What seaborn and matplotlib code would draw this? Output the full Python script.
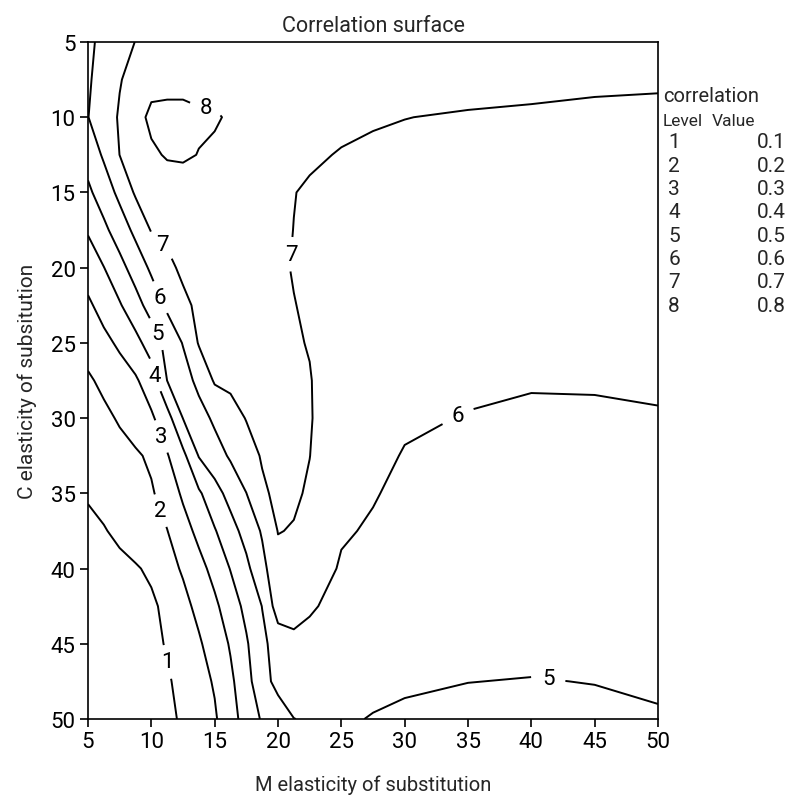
import numpy as np
import pandas as pd
import matplotlib
matplotlib.use("Agg")
import matplotlib.pyplot as plt
import seaborn as sns

# ---- data: correlation surface ----
m_elasticity = [5, 6.25, 7.5, 8.75, 10, 11.25, 12.5, 13.75, 15, 16.25, 17.5,
                18.75, 20, 21.25, 22.5, 25, 27.5, 30, 35, 40, 45, 50]
c_elasticity = [5, 7.5, 10, 12.5, 15, 17.5, 20, 22.5, 25, 27.5, 30, 32.5,
                35, 37.5, 40, 42.5, 45, 47.5, 50]

corr_c050 = [0.583, 0.622, 0.662, 0.702, 0.73, 0.75, 0.76, 0.767, 0.77, 0.77, 0.768, 0.766, 0.764, 0.762, 0.76, 0.755, 0.75, 0.745, 0.74, 0.73, 0.725, 0.72]
corr_c075 = [0.588, 0.642, 0.695, 0.73, 0.77, 0.775, 0.775, 0.775, 0.78, 0.778, 0.775, 0.772, 0.77, 0.767, 0.763, 0.755, 0.745, 0.735, 0.725, 0.715, 0.706, 0.704]
corr_c100 = [0.598, 0.655, 0.709, 0.766, 0.82, 0.822, 0.822, 0.81, 0.806, 0.793, 0.785, 0.775, 0.765, 0.755, 0.745, 0.72, 0.707, 0.701, 0.694, 0.692, 0.693, 0.693]
corr_c125 = [0.54, 0.613, 0.701, 0.74, 0.785, 0.808, 0.81, 0.798, 0.79, 0.775, 0.765, 0.755, 0.745, 0.733, 0.712, 0.695, 0.688, 0.685, 0.684, 0.683, 0.682, 0.68]
corr_c150 = [0.481, 0.549, 0.624, 0.712, 0.735, 0.752, 0.762, 0.765, 0.765, 0.76, 0.75, 0.738, 0.722, 0.702, 0.69, 0.683, 0.678, 0.673, 0.672, 0.671, 0.67, 0.668]
corr_c175 = [0.409, 0.478, 0.549, 0.623, 0.706, 0.725, 0.74, 0.748, 0.75, 0.748, 0.742, 0.732, 0.718, 0.699, 0.687, 0.675, 0.668, 0.661, 0.66, 0.659, 0.658, 0.656]
corr_c200 = [0.346, 0.398, 0.468, 0.543, 0.617, 0.675, 0.72, 0.725, 0.732, 0.733, 0.73, 0.724, 0.712, 0.696, 0.686, 0.668, 0.659, 0.65, 0.648, 0.647, 0.646, 0.645]
corr_c225 = [0.283, 0.337, 0.391, 0.462, 0.541, 0.618, 0.677, 0.72, 0.725, 0.723, 0.722, 0.718, 0.71, 0.702, 0.69, 0.66, 0.65, 0.64, 0.636, 0.635, 0.634, 0.633]
corr_c250 = [0.235, 0.274, 0.317, 0.37, 0.444, 0.532, 0.605, 0.707, 0.72, 0.725, 0.726, 0.724, 0.718, 0.708, 0.696, 0.652, 0.643, 0.63, 0.624, 0.623, 0.622, 0.622]
corr_c275 = [0.188, 0.219, 0.253, 0.287, 0.354, 0.501, 0.557, 0.626, 0.71, 0.72, 0.725, 0.727, 0.725, 0.718, 0.704, 0.646, 0.636, 0.62, 0.612, 0.605, 0.605, 0.61]
corr_c300 = [0.155, 0.181, 0.209, 0.247, 0.285, 0.361, 0.502, 0.562, 0.617, 0.663, 0.704, 0.718, 0.725, 0.72, 0.706, 0.64, 0.628, 0.61, 0.597, 0.59, 0.592, 0.595]
corr_c325 = [0.14, 0.156, 0.172, 0.187, 0.216, 0.293, 0.375, 0.505, 0.559, 0.612, 0.661, 0.708, 0.722, 0.718, 0.701, 0.632, 0.618, 0.596, 0.58, 0.577, 0.578, 0.58]
corr_c350 = [0.11, 0.13, 0.15, 0.17, 0.19, 0.24, 0.316, 0.386, 0.463, 0.534, 0.599, 0.685, 0.72, 0.712, 0.69, 0.622, 0.606, 0.58, 0.567, 0.565, 0.566, 0.57]
corr_c375 = [0.075, 0.094, 0.12, 0.146, 0.172, 0.198, 0.26, 0.326, 0.393, 0.463, 0.535, 0.61, 0.703, 0.695, 0.675, 0.61, 0.59, 0.56, 0.555, 0.555, 0.555, 0.56]
corr_c400 = [0.05, 0.062, 0.076, 0.092, 0.115, 0.166, 0.211, 0.268, 0.331, 0.404, 0.477, 0.571, 0.67, 0.675, 0.655, 0.59, 0.565, 0.548, 0.545, 0.545, 0.545, 0.55]
corr_c425 = [0.04, 0.05, 0.062, 0.075, 0.085, 0.121, 0.172, 0.225, 0.281, 0.351, 0.426, 0.502, 0.65, 0.64, 0.615, 0.56, 0.545, 0.537, 0.535, 0.535, 0.535, 0.54]
corr_c450 = [0.035, 0.045, 0.055, 0.068, 0.08, 0.106, 0.147, 0.188, 0.245, 0.309, 0.389, 0.479, 0.54, 0.575, 0.561, 0.535, 0.53, 0.527, 0.523, 0.523, 0.525, 0.53]
corr_c475 = [0.03, 0.04, 0.05, 0.062, 0.075, 0.09, 0.126, 0.166, 0.209, 0.282, 0.361, 0.475, 0.52, 0.54, 0.535, 0.52, 0.515, 0.512, 0.501, 0.497, 0.502, 0.515]
corr_c500 = [0.025, 0.035, 0.045, 0.055, 0.068, 0.084, 0.11, 0.149, 0.189, 0.26, 0.341, 0.41, 0.465, 0.499, 0.507, 0.508, 0.497, 0.485, 0.475, 0.47, 0.48, 0.49]

level_ids = [1, 2, 3, 4, 5, 6, 7, 8]
level_values = [0.1, 0.2, 0.3, 0.4, 0.5, 0.6, 0.7, 0.8]
tick_values = [5, 10, 15, 20, 25, 30, 35, 40, 45, 50]

# ---- layout only: where the contour labels sit ----
label_levels = [0.8, 0.7, 0.7, 0.6, 0.6, 0.5, 0.5, 0.4, 0.3, 0.2, 0.1]
label_spots = [(14.3, 9.7), (10.7, 18.6), (20.9, 19.1), (10.6, 22.0), (34.1, 29.7),
               (10.45, 24.4), (41.3, 47.6), (10.45, 27.1), (10.85, 31.2),
               (10.9, 36.1), (11.3, 46.2)]

rows = [corr_c050, corr_c075, corr_c100, corr_c125, corr_c150, corr_c175, corr_c200,
        corr_c225, corr_c250, corr_c275, corr_c300, corr_c325, corr_c350, corr_c375,
        corr_c400, corr_c425, corr_c450, corr_c475, corr_c500]
surface = pd.DataFrame(rows, index=c_elasticity, columns=m_elasticity)

sns.set_style("ticks")
plt.rcParams['font.family'] = ['Roboto', 'DejaVu Sans']
plt.rcParams['axes.linewidth'] = 1.2
plt.rcParams['xtick.major.width'] = 1.2
plt.rcParams['ytick.major.width'] = 1.2

W, H = 801, 804
fig = plt.figure(figsize=(W / 100, H / 100), dpi=100)
ax = fig.add_axes([88 / W, 1 - 720 / H, 570 / W, 677 / H])
ax.set_xlim(5, 50)
ax.set_ylim(50, 5)

fmt = {v: str(i) for i, v in zip(level_ids, level_values)}
sets = {}
for lv in level_values:
    sets[lv] = ax.contour(surface.columns.values, surface.index.values, surface.values,
                          levels=[lv], colors='black', linewidths=1.4)

for lv, spot in zip(label_levels, label_spots):
    sets[lv].clabel(manual=[spot], fmt=fmt, inline=True, inline_spacing=11, fontsize=16)

for cs in sets.values():
    for t in cs.labelTexts:
        t.set_rotation(0)
        t.set_color('black')

ax.set_xticks(tick_values)
ax.set_yticks(tick_values)
ax.tick_params(axis='both', direction='out', length=6, labelsize=16, pad=3,
               colors='black')
for s in ax.spines.values():
    s.set_color('black')
    s.set_visible(True)

ax.set_title("Correlation surface", fontsize=15.5, pad=8)
ax.set_xlabel("M elasticity of substitution", fontsize=14.5, labelpad=16)
ax.set_ylabel("C elasticity of subsitution", fontsize=15, labelpad=10)

# key on the right
fig.text(663 / W, 1 - 97 / H, "correlation", fontsize=14.5, ha='left', va='center')
fig.text(663 / W, 1 - 121 / H, "Level", fontsize=12.5, ha='left', va='center')
fig.text(712 / W, 1 - 121 / H, "Value", fontsize=12.5, ha='left', va='center')
for k, (lid, lv) in enumerate(zip(level_ids, level_values)):
    yy = 1 - (143 + k * 23.3) / H
    fig.text(674 / W, yy, str(lid), fontsize=15, ha='center', va='center')
    fig.text(786 / W, yy, f"{lv:.1f}", fontsize=15, ha='right', va='center')

fig.savefig("out.png", dpi=100)
